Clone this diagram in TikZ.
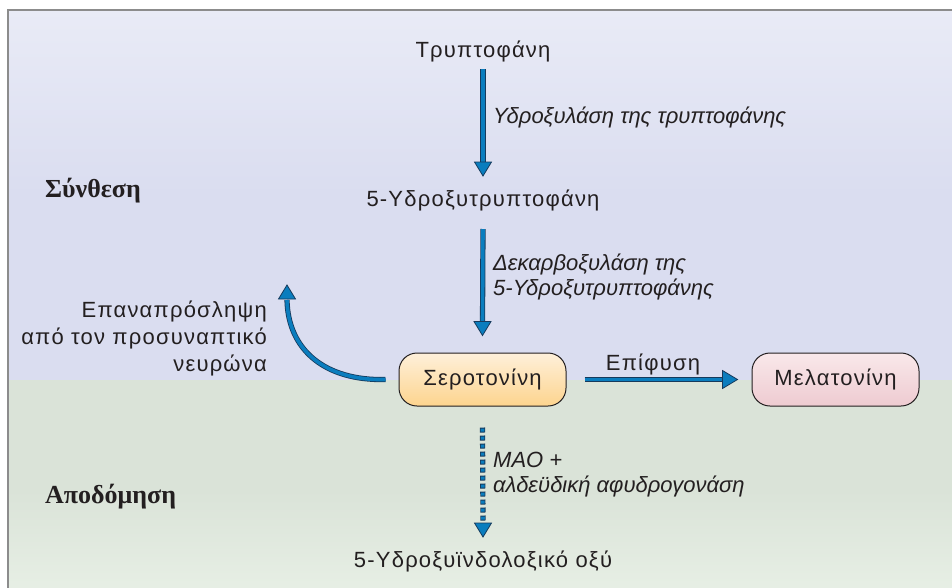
\documentclass[tikz,border=0pt]{standalone}
\usepackage{fontspec}
\setmainfont{Liberation Sans}
\newfontfamily\spacedsans{Liberation Sans}[LetterSpace=5.5]
\newfontfamily\headserif{Liberation Serif}
\usetikzlibrary{calc}
\definecolor{ink}{HTML}{231F20}
\definecolor{arrowblue}{HTML}{0A7DBE}
\definecolor{arrowedge}{HTML}{163A5C}
\definecolor{framegray}{HTML}{8C8C8C}
\definecolor{synthtop}{HTML}{E9EBF6}
\definecolor{synthbot}{HTML}{DADDF0}
\definecolor{degtop}{HTML}{DAE3D8}
\definecolor{degbot}{HTML}{E8F0E6}
\definecolor{serotop}{HTML}{FEF0DA}
\definecolor{serobot}{HTML}{FDD48E}
\definecolor{melatop}{HTML}{F9E8EA}
\definecolor{melabot}{HTML}{EECBD1}
\begin{document}
\begin{tikzpicture}[x=1pt,y=-1pt,
  txt/.style={font=\spacedsans\fontsize{22}{27}\selectfont, text=ink, inner sep=0pt},
  lbl/.style={font=\fontsize{22}{25}\selectfont\itshape, text=ink, inner sep=0pt, align=left},
  phase/.style={font=\headserif\bfseries\fontsize{26}{30}\selectfont, text=ink, inner sep=0pt},
  compound/.style={font=\spacedsans\fontsize{22}{27}\selectfont, text=ink, draw=ink, line width=1pt,
    rounded corners=18pt, minimum width=167pt, minimum height=53pt, inner sep=0pt},
  shaft/.style={draw=arrowedge, line width=0.8pt, double=arrowblue, double distance=3.6pt},
  tipshape/.style={fill=arrowblue, draw=arrowedge, line width=0.8pt, line join=miter},
  dotouter/.style={draw=arrowedge, line width=5.2pt, dash pattern=on 5pt off 3pt},
  dotinner/.style={draw=arrowblue, line width=3.6pt, dash pattern=on 3pt off 5pt, dash phase=7pt}
]
\useasboundingbox (0,0) rectangle (952,587);
\fill[white] (0,0) rectangle (952,587);

% two regions: synthesis (top) and degradation (bottom)
\shade[top color=synthtop, bottom color=synthbot, middle color=synthbot] (8,10) rectangle (970,380);
\shade[top color=degtop, bottom color=degbot, middle color=degtop] (8,380) rectangle (970,600);
\draw[framegray, line width=1.8pt] (8,10) rectangle (970,600);

% region titles
\node[phase, anchor=base west] (syn) at (45,197) {Σύνθεση};
\node[phase, anchor=base west] (apo) at (45,503) {Αποδόμηση};

% compounds
\node[txt, anchor=base] (trp) at (483,57) {Τρυπτοφάνη};
\node[txt, anchor=base] (htp) at (483,206) {5-Υδροξυτρυπτοφάνη};
\node[compound, top color=serotop, bottom color=serobot] (sero) at (482.5,379.5) {Σεροτονίνη};
\node[compound, top color=melatop, bottom color=melabot] (mel) at (835.5,379.5) {Μελατονίνη};
\node[txt, anchor=base] (hiaa) at (483,567) {5-Υδροξυϊνδολοξικό οξύ};

% enzyme / process labels (base anchor = last line)
\node[lbl, anchor=base west] (e1) at (493,123) {Υδροξυλάση της τρυπτοφάνης};
\node[lbl, anchor=base west] (e2) at (493,295) {Δεκαρβοξυλάση της\\5-Υδροξυτρυπτοφάνης};
\node[lbl, anchor=base west] (e3) at (493,492) {MAO +\\αλδεϋδική αφυδρογονάση};
\node[txt, anchor=base] (pin) at (653,370) {Επίφυση};
\node[txt, align=right, anchor=base east] (reup) at (267,371) {Επαναπρόσληψη\\από τον προσυναπτικό\\νευρώνα};

% arrow end points
\coordinate (a1s) at ($(trp.base)+(0,12)$);
\coordinate (a1e) at ($(htp.base)+(0,-30)$);
\coordinate (a2s) at ($(htp.base)+(0,23)$);
\coordinate (a2e) at ($(sero.north)+(0,-17)$);
\coordinate (a3s) at ($(sero.east)+(18,0)$);
\coordinate (a3e) at ($(mel.west)+(-14,0)$);
\coordinate (a4s) at ($(sero.west)+(-13,0)$);
\coordinate (a4e) at (287,285);
\coordinate (a5s) at ($(sero.south)+(0,21)$);
\coordinate (a5e) at ($(hiaa.base)+(0,-30)$);

% Tryptophan -> 5-HTP
\draw[shaft] (a1s) -- ($(a1e)+(0,-12)$);
\filldraw[tipshape] (a1e) -- ++(-8.5,-14) -- ++(17,0) -- cycle;
% 5-HTP -> serotonin
\draw[shaft] (a2s) -- ($(a2e)+(0,-12)$);
\filldraw[tipshape] (a2e) -- ++(-8.5,-14) -- ++(17,0) -- cycle;
% serotonin -> melatonin
\draw[shaft] (a3s) -- ($(a3e)+(-12,0)$);
\filldraw[tipshape] (a3e) -- ++(-15,-9) -- ++(0,18) -- cycle;
% reuptake
\draw[shaft] (a4s) .. controls (325,381) and (288,350) .. ($(a4e)+(0,15)$);
\filldraw[tipshape] (a4e) -- ++(-8.5,14) -- ++(17,0) -- cycle;
% degradation (dotted)
\draw[dotouter] (a5s) -- ($(a5e)+(0,-13)$);
\draw[dotinner] (a5s) -- ($(a5e)+(0,-13)$);
\filldraw[tipshape] (a5e) -- ++(-8.5,-14) -- ++(17,0) -- cycle;
\end{tikzpicture}
\end{document}
